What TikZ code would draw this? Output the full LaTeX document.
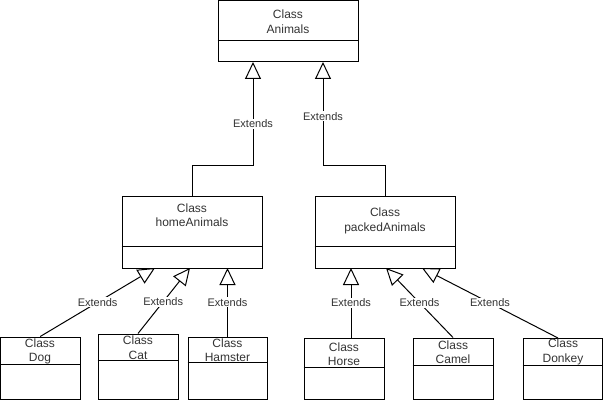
\documentclass[tikz,border=0pt]{standalone}
\usepackage{fontspec}
\setmainfont{Liberation Sans}
\usetikzlibrary{arrows.meta,fit}
\definecolor{txt}{HTML}{333333}
\begin{document}
\begin{tikzpicture}[x=1pt,y=-1pt,
  box/.style={draw=black, line width=1pt, inner sep=0pt},
  cls/.style={text=txt, font=\fontsize{12}{14.5}\selectfont, align=center, inner sep=0pt},
  lbl/.style={text=txt, fill=white, font=\fontsize{11}{13}\selectfont, inner sep=1pt},
  ext/.style={draw=black, line width=1pt, -{Triangle[open, length=17pt, width=16pt, line width=1pt]}}
]
\useasboundingbox (0,0) rectangle (603,401);
% boxes
\node[box, fit={(218,1)(358,62)}] (animals) {};
\node[box, fit={(122,197)(262,268)}] (home) {};
\node[box, fit={(315,197)(455,268)}] (packed) {};
\node[box, fit={(0.5,337)(80,399.5)}] (dog) {};
\node[box, fit={(98,334)(178,399.5)}] (cat) {};
\node[box, fit={(188,337)(267,399.5)}] (hamster) {};
\node[box, fit={(304,338)(384,399.5)}] (horse) {};
\node[box, fit={(413,338)(493,399.5)}] (camel) {};
\node[box, fit={(523,338)(602.5,399.5)}] (donkey) {};
% dividers
\draw[line width=1pt] (animals.west |- 0,41) -- (animals.east |- 0,41);
\draw[line width=1pt] (home.west |- 0,246) -- (home.east |- 0,246);
\draw[line width=1pt] (packed.west |- 0,246) -- (packed.east |- 0,246);
\draw[line width=1pt] (dog.west |- 0,364) -- (dog.east |- 0,364);
\draw[line width=1pt] (cat.west |- 0,360) -- (cat.east |- 0,360);
\draw[line width=1pt] (hamster.west |- 0,362) -- (hamster.east |- 0,362);
\draw[line width=1pt] (horse.west |- 0,367) -- (horse.east |- 0,367);
\draw[line width=1pt] (camel.west |- 0,365) -- (camel.east |- 0,365);
\draw[line width=1pt] (donkey.west |- 0,365) -- (donkey.east |- 0,365);
% texts
\node[cls] (tanimals) at (288,21.5) {Class\\Animals};
\node[cls] (thome) at (192,215) {Class\\homeAnimals};
\node[cls] (tpacked) at (385,221) {Class\\packedAnimals};
\node[cls] (tdog) at (40,351.5) {Class\\Dog};
\node[cls] (tcat) at (138,347.5) {Class\\Cat};
\node[cls] (thamster) at (227.5,350) {Class\\Hamster};
\node[cls] (thorse) at (344,354) {Class\\Horse};
\node[cls] (tcamel) at (453,352) {Class\\Camel};
\node[cls] (tdonkey) at (563,352) {Class\\Donkey};
% connector coordinates
\coordinate (a1) at (253,62);
\coordinate (a2) at (323,62);
\coordinate (hb1) at (192,166);
\coordinate (hb2) at (253,166);
\coordinate (pb1) at (385,166);
\coordinate (pb2) at (323,166);
\coordinate (h1) at (155,268);
\coordinate (h2) at (190,268);
\coordinate (h3) at (227.5,268);
\coordinate (p1) at (351,268);
\coordinate (p2) at (386,268);
\coordinate (p3) at (422,268);
\coordinate (hs) at (351,338);
\coordinate (ds) at (558,338);
% connectors
\draw[ext] (home.north) -- (hb1) -- (hb2) -- node[lbl, pos=0.404] (l1) {Extends} (a1);
\draw[ext] (packed.north) -- (pb1) -- (pb2) -- node[lbl, pos=0.48] (l2) {Extends} (a2);
\draw[ext] (dog.north) -- node[lbl, pos=0.5] (l3) {Extends} (h1);
\draw[ext] (cat.north) -- node[lbl, pos=0.485] (l4) {Extends} (h2);
\draw[ext] (hamster.north) -- node[lbl, pos=0.5] (l5) {Extends} (h3);
\draw[ext] (hs) -- node[lbl, pos=0.5] (l6) {Extends} (p1);
\draw[ext] (camel.north) -- node[lbl, pos=0.5] (l7) {Extends} (p2);
\draw[ext] (ds) -- node[lbl, pos=0.5] (l8) {Extends} (p3);
\end{tikzpicture}
\end{document}
